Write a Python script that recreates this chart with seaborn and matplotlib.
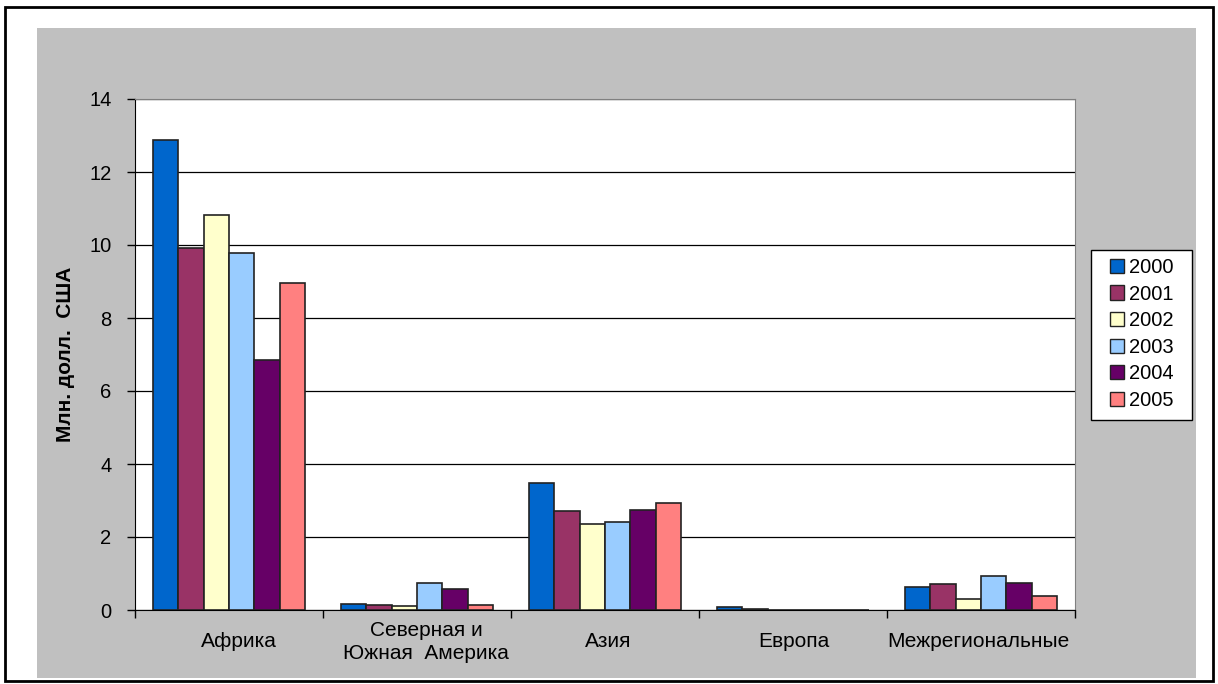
import pandas as pd
import matplotlib.pyplot as plt
import matplotlib.patches as mpatches
import matplotlib.transforms as mtransforms
from matplotlib.ticker import FixedLocator
import seaborn as sns

regions = ["Африка", "Северная и\nЮжная  Америка", "Азия", "Европа", "Межрегиональные"]
years = ["2000", "2001", "2002", "2003", "2004", "2005"]
v2000 = [12.88, 0.17, 3.48, 0.08, 0.62]
v2001 = [9.92, 0.15, 2.71, 0.03, 0.71]
v2002 = [10.82, 0.11, 2.36, 0.0, 0.29]
v2003 = [9.78, 0.74, 2.41, 0.0, 0.92]
v2004 = [6.85, 0.57, 2.74, 0.0, 0.75]
v2005 = [8.96, 0.14, 2.93, 0.0, 0.39]
colors = ["#0066CC", "#993366", "#FFFFCC", "#99CCFF", "#660066", "#FF8080"]

rows = []
for yr, vals in zip(years, [v2000, v2001, v2002, v2003, v2004, v2005]):
    for reg, v in zip(regions, vals):
        rows.append({"region": reg, "year": yr, "value": v})
df = pd.DataFrame(rows)

sns.set_style("white")
plt.rcParams["font.family"] = ["Liberation Sans", "DejaVu Sans"]
plt.rcParams["text.color"] = "black"
plt.rcParams["xtick.color"] = "black"
plt.rcParams["ytick.color"] = "black"
plt.rcParams["axes.labelcolor"] = "black"

W, H = 1218, 684
fig = plt.figure(figsize=(12.18, 6.84), dpi=100)
fig.patch.set_facecolor("white")
# grey chart area and outer frame
fig.patches.append(mpatches.Rectangle((37 / W, 1 - 678 / H), (1196 - 37) / W, (678 - 28) / H,
                                      transform=fig.transFigure, facecolor="#C0C0C0", edgecolor="none", zorder=-2))
fig.patches.append(mpatches.Rectangle((5 / W, 1 - 681 / H), (1213 - 5) / W, (681 - 7) / H,
                                      transform=fig.transFigure, facecolor="none", edgecolor="black",
                                      linewidth=2, zorder=-1))
# legend box
fig.patches.append(mpatches.Rectangle((1091 / W, 1 - 420 / H), (1192 - 1091) / W, (420 - 250) / H,
                                      transform=fig.transFigure, facecolor="white", edgecolor="black",
                                      linewidth=1, zorder=-1))

ax = fig.add_axes([135 / W, 1 - 610 / H, (1075 - 135) / W, (610 - 99) / H])
ax.set_facecolor("white")

sns.barplot(data=df, x="region", y="value", hue="year", palette=colors, order=regions,
            hue_order=years, width=0.81, edgecolor="#222222", linewidth=1.2, ax=ax,
            saturation=1, legend=False, zorder=3)

ax.set_ylim(0, 14)
ax.set_xlim(-0.5, 4.5)
ax.set_yticks(range(0, 15, 2))
ax.yaxis.grid(True, color="black", linewidth=0.9)
ax.set_axisbelow(True)
for s in ["top", "right"]:
    ax.spines[s].set_color("#808080")
for s in ["left", "bottom"]:
    ax.spines[s].set_color("black")
ax.tick_params(axis="y", length=6, width=1, color="black", labelsize=14.5, pad=11, left=True)
ax.tick_params(axis="x", which="major", length=0, labelsize=15, pad=23)
ax.xaxis.set_minor_locator(FixedLocator([-0.5, 0.5, 1.5, 2.5, 3.5, 4.5]))
ax.tick_params(axis="x", which="minor", length=6, width=1, color="black", bottom=True)

# Excel-style label placement: vertically centred, small horizontal shifts
shifts = [10, 9, 3, 1, -3]
for lbl, dx in zip(ax.get_xticklabels(), shifts):
    lbl.set_verticalalignment("center")
    lbl.set_linespacing(1.25)
    lbl.set_transform(lbl.get_transform() + mtransforms.ScaledTranslation(dx / 100, 0, fig.dpi_scale_trans))

ax.set_xlabel("")
ax.set_ylabel("Млн. долл.  США", fontsize=15, fontweight="bold", labelpad=10)

handles = [mpatches.Patch(facecolor=c, edgecolor="#222222", label=y) for c, y in zip(colors, years)]
fig.legend(handles=handles, loc="center", bbox_to_anchor=(1142 / W, 1 - 334 / H),
           frameon=False, fontsize=14.5, handlelength=0.7, handleheight=0.7,
           handletextpad=0.25, labelspacing=0.38, borderpad=0, borderaxespad=0)

fig.savefig("out.png", dpi=100)
